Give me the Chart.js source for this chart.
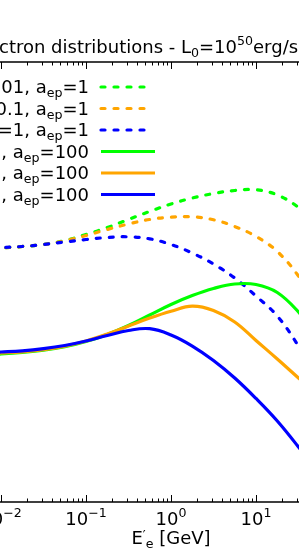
<!DOCTYPE html>
<html><head><meta charset="utf-8">
<script src="https://cdn.jsdelivr.net/npm/chart.js@4"></script>
<style>html,body{margin:0;padding:0;background:#fff;overflow:hidden}</style>
</head><body>
<canvas id="c" width="299" height="554" style="display:block"></canvas>
<script>
// Electron energy grid E'_e [GeV] (first and last points lie just outside the visible window)
const energyGeV = [0.00562, 0.01, 0.0178, 0.0316, 0.0562, 0.1, 0.178, 0.316, 0.562, 1, 1.78, 3.16, 5.62, 10, 17.8, 31.6, 56.2];
// log10 of distribution (arbitrary units)
const dashedGreen  = [2.976, 2.988, 3.006, 3.029, 3.076, 3.147, 3.229, 3.324, 3.418, 3.506, 3.576, 3.629, 3.665, 3.673, 3.612, 3.465, 3.229];
const dashedOrange = [2.976, 2.988, 3.006, 3.029, 3.073, 3.135, 3.206, 3.271, 3.324, 3.351, 3.355, 3.320, 3.241, 3.124, 2.947, 2.659, 2.282];
const dashedBlue   = [2.985, 2.994, 3.006, 3.029, 3.059, 3.088, 3.112, 3.120, 3.096, 3.029, 2.929, 2.800, 2.635, 2.424, 2.188, 1.835, 1.412];
const solidGreen   = [1.729, 1.741, 1.759, 1.785, 1.826, 1.888, 1.971, 2.076, 2.200, 2.324, 2.429, 2.512, 2.565, 2.559, 2.465, 2.235, 1.918];
const solidOrange  = [1.741, 1.753, 1.767, 1.791, 1.833, 1.894, 1.976, 2.071, 2.165, 2.245, 2.304, 2.253, 2.118, 1.900, 1.682, 1.459, 1.235];
const solidBlue    = [1.753, 1.765, 1.779, 1.804, 1.841, 1.894, 1.959, 2.018, 2.039, 1.965, 1.835, 1.665, 1.459, 1.218, 0.953, 0.647, 0.318];
// visible (cropped) legend label fragments
const legendPrefix = ["01, a", "0.1, a", "=1, a", ", a", ", a", ", a"];
const legendSub = "ep";
const legendSuffix = ["=1", "=1", "=1", "=100", "=100", "=100"];
// x tick labels (decade exponents)
const tickExponents = [-2, -1, 0, 1];
const titleParts = [["ctron distributions - L","n"],["0","sub"],["=10","n"],["50","sup"],["erg/s","n"]];
const xLabelParts = [["E","n"],["\u2032","prime"],["e","sub"],[" [GeV]","n"]];

const GREEN = "#00ff00", ORANGE = "#ffa500", BLUE = "#0000ff";
const FONT = "DejaVu Sans";
const F = 18;
const LW = 3.2;
const DASH = [4, 9];

function series(label, vals, color, dashed, order) {
  return {
    label, order,
    data: energyGeV.map((e, i) => ({x: e, y: vals[i]})),
    borderColor: color, backgroundColor: color,
    borderWidth: LW, borderDash: dashed ? DASH : [],
    borderCapStyle: dashed ? "round" : "butt",
    borderJoinStyle: "round",
    pointRadius: 0, fill: false, tension: 0.4
  };
}
const datasets = [
  series("dashed green", dashedGreen, GREEN, true, 5),
  series("dashed orange", dashedOrange, ORANGE, true, 4),
  series("dashed blue", dashedBlue, BLUE, true, 3),
  series("solid green", solidGreen, GREEN, false, 2),
  series("solid orange", solidOrange, ORANGE, false, 1),
  series("solid blue", solidBlue, BLUE, false, 0)
];

function drawRich(ctx, parts, x, y, align, size) {
  const w = p => {
    const s = p[1] === "n" ? size : size * 0.7;
    ctx.font = s + "px '" + FONT + "'";
    return ctx.measureText(p[0]).width;
  };
  let total = parts.reduce((a, p) => a + w(p), 0);
  let cx = align === "right" ? x - total : align === "center" ? x - total / 2 : x;
  ctx.textAlign = "left";
  ctx.textBaseline = "alphabetic";
  for (const p of parts) {
    const s = p[1] === "n" ? size : size * 0.7;
    ctx.font = s + "px '" + FONT + "'";
    let dy = 0;
    if (p[1] === "sub") dy = size * 0.24;
    if (p[1] === "sup") dy = -size * 0.42;
    if (p[1] === "prime") dy = -size * 0.28;
    ctx.fillText(p[0], cx, y + dy);
    cx += ctx.measureText(p[0]).width;
  }
}

const decor = {
  id: "decor",
  afterDraw(chart) {
    const ctx = chart.ctx, a = chart.chartArea, xs = chart.scales.x;
    ctx.save();
    ctx.fillStyle = "#000"; ctx.strokeStyle = "#000";
    ctx.lineWidth = 1.5;
    ctx.beginPath();
    ctx.moveTo(a.left - 2, a.top); ctx.lineTo(a.right + 2, a.top);
    ctx.moveTo(a.left - 2, a.bottom); ctx.lineTo(a.right + 2, a.bottom);
    ctx.stroke();
    ctx.lineWidth = 1;
    for (let d = -3; d <= 2; d++) {
      for (let m = 1; m <= 9; m++) {
        const v = m * Math.pow(10, d);
        if (v < xs.min || v > xs.max) continue;
        const px = Math.round(xs.getPixelForValue(v)) + 0.5;
        const len = m === 1 ? 7 : 3.5;
        ctx.beginPath();
        ctx.moveTo(px, a.bottom); ctx.lineTo(px, a.bottom - len);
        ctx.moveTo(px, a.top); ctx.lineTo(px, a.top + len);
        ctx.stroke();
      }
    }
    for (const e of tickExponents) {
      const px = xs.getPixelForValue(Math.pow(10, e));
      const ex = e < 0 ? "\u2212" + Math.abs(e) : String(e);
      drawRich(ctx, [["10","n"],[ex,"sup"]], px, a.bottom + 23, "center", F);
    }
    drawRich(ctx, xLabelParts, xs.getPixelForValue(1), a.bottom + 42, "center", F);
    drawRich(ctx, titleParts, -1, a.top - 9, "left", F);
    const rowY0 = 87, rowDy = 21.5, textRight = 89, lineX0 = 101, lineX1 = 155;
    datasets.forEach((ds, i) => {
      const yy = rowY0 + i * rowDy;
      ctx.fillStyle = "#000";
      drawRich(ctx, [[legendPrefix[i],"n"],[legendSub,"sub"],[legendSuffix[i],"n"]], textRight, yy + 6, "right", F);
      ctx.strokeStyle = ds.borderColor;
      ctx.lineWidth = LW;
      ctx.lineCap = ds.borderCapStyle;
      ctx.setLineDash(ds.borderDash);
      ctx.beginPath();
      ctx.moveTo(lineX0, yy);
      ctx.lineTo(ds.borderDash.length ? lineX1 - 8 : lineX1, yy);
      ctx.stroke();
      ctx.setLineDash([]);
    });
    ctx.restore();
  }
};

new Chart(document.getElementById("c"), {
  type: "line",
  data: { datasets },
  options: {
    responsive: false, animation: false, devicePixelRatio: 1,
    layout: { padding: { left: 0, right: 0, top: 62, bottom: 52 } },
    scales: {
      x: { type: "logarithmic", min: Math.pow(10, -2.0118), max: Math.pow(10, 1.5059), display: false },
      y: { type: "linear", min: 0, max: 440 / 85, display: false }
    },
    plugins: { legend: { display: false }, title: { display: false }, tooltip: { enabled: false } }
  },
  plugins: [decor]
});
</script>
</body></html>
